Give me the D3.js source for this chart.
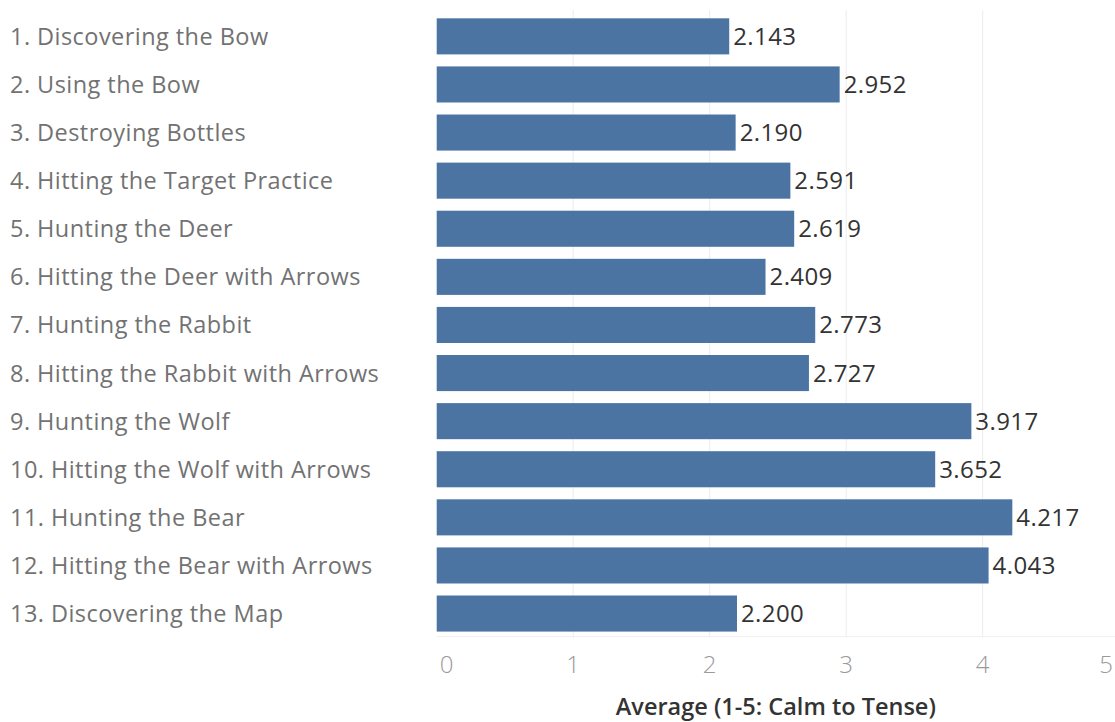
<!DOCTYPE html>
<html>
<head>
<meta charset="utf-8">
<script src="https://cdn.jsdelivr.net/npm/d3@7"></script>
<style>
  html, body { margin: 0; padding: 0; background: #ffffff; }
  svg { display: block; }
</style>
</head>
<body>
<svg id="chart" width="1115" height="722"></svg>
<script>
// Scene names, in play order
const scenes = [
  "1. Discovering the Bow",
  "2. Using the Bow",
  "3. Destroying Bottles",
  "4. Hitting the Target Practice",
  "5. Hunting the Deer",
  "6. Hitting the Deer with Arrows",
  "7. Hunting the Rabbit",
  "8. Hitting the Rabbit with Arrows",
  "9. Hunting the Wolf",
  "10. Hitting the Wolf with Arrows",
  "11. Hunting the Bear",
  "12. Hitting the Bear with Arrows",
  "13. Discovering the Map"
];

// Average tension rating per scene (1 = calm, 5 = tense)
const averages = [2.143, 2.952, 2.190, 2.591, 2.619, 2.409, 2.773, 2.727, 3.917, 3.652, 4.217, 4.043, 2.200];

const xTicks = [0, 1, 2, 3, 4, 5];
const axisTitle = "Average (1-5: Calm to Tense)";

const svg = d3.select("#chart");
const W = 1115, H = 722;
const pane = { left: 436.7, right: 1119.2, top: 12.3, bottom: 637.6 };

const x = d3.scaleLinear().domain([0, 5]).range([pane.left, pane.right]);
const y = d3.scaleBand().domain(scenes).range([pane.top, pane.bottom]).paddingInner(0.25).paddingOuter(0.125);

const FONT = "'Open Sans', 'DejaVu Sans', sans-serif";

// vertical gridlines
svg.append("g")
  .selectAll("line")
  .data(xTicks.filter(d => d > 0))
  .join("line")
  .attr("x1", d => x(d)).attr("x2", d => x(d))
  .attr("y1", pane.top - 2).attr("y2", pane.bottom)
  .attr("stroke", "#ececec").attr("stroke-width", 1);

// pane bottom rule
svg.append("line")
  .attr("x1", pane.left).attr("x2", W)
  .attr("y1", pane.bottom - 1).attr("y2", pane.bottom - 1)
  .attr("stroke", "#f0f0f0").attr("stroke-width", 1);

// bars
svg.append("g")
  .selectAll("rect")
  .data(scenes)
  .join("rect")
  .attr("x", x(0))
  .attr("y", d => y(d))
  .attr("width", (d, i) => x(averages[i]) - x(0))
  .attr("height", y.bandwidth())
  .attr("fill", "#4b74a2");

// value labels
svg.append("g")
  .selectAll("text")
  .data(scenes)
  .join("text")
  .attr("x", (d, i) => x(averages[i]) + 4)
  .attr("y", d => y(d) + y.bandwidth() / 2 + 8.5)
  .attr("font-family", FONT)
  .attr("font-size", 24)
  .attr("letter-spacing", 0.4)
  .attr("fill", "#333333")
  .text((d, i) => averages[i].toFixed(3));

// row labels
svg.append("g")
  .selectAll("text")
  .data(scenes)
  .join("text")
  .attr("x", 10)
  .attr("y", d => y(d) + y.bandwidth() / 2 + 8.5)
  .attr("font-family", FONT)
  .attr("font-size", 23.5)
  .attr("letter-spacing", 0.45)
  .attr("fill", "#727272")
  .text(d => d);

// x axis tick labels, kept inside the pane at both ends
svg.append("g")
  .selectAll("text")
  .data(xTicks)
  .join("text")
  .attr("x", d => Math.min(Math.max(x(d), pane.left + 10), W - 9))
  .attr("y", 673)
  .attr("text-anchor", "middle")
  .attr("font-family", FONT)
  .attr("font-size", 24)
  .attr("font-weight", 300)
  .attr("fill", "#9a9a9a")
  .text(d => d);

// axis title
svg.append("text")
  .attr("x", (pane.left + W) / 2)
  .attr("y", 715)
  .attr("text-anchor", "middle")
  .attr("font-family", FONT)
  .attr("font-size", 23.5)
  .attr("font-weight", 600)
  .attr("fill", "#333333")
  .text(axisTitle);
</script>
</body>
</html>
